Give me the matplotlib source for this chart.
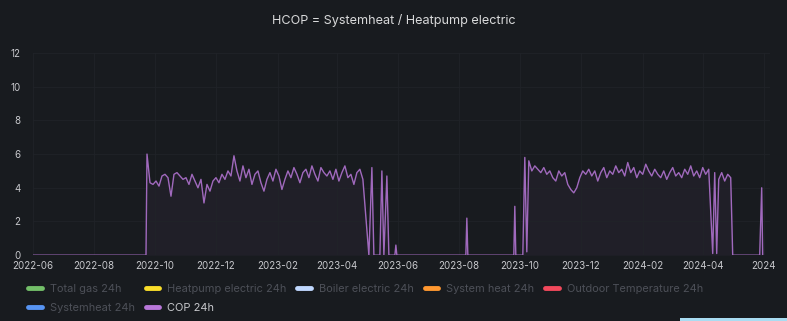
import pandas as pd
import matplotlib
matplotlib.use('Agg')
from matplotlib import pyplot as plt
from matplotlib.lines import Line2D
from matplotlib.patches import Rectangle

plt.rcParams['font.family'] = ['Inter', 'DejaVu Sans']

# COP 24h, heating season 2022/23 (one value every 3 days from 2022-09-23)
season1_start = '2022-09-23'
season1_cop = [6.0, 4.3, 4.2, 4.4, 4.1, 4.7, 4.8, 4.6, 3.5, 4.8,
               4.9, 4.7, 4.5, 4.6, 4.2, 4.8, 4.4, 4.0, 4.5, 3.1,
               4.2, 3.8, 4.4, 4.6, 4.3, 4.8, 4.5, 5.0, 4.7, 5.9,
               5.0, 4.4, 5.3, 4.6, 5.1, 4.2, 4.8, 5.0, 4.3, 3.8,
               4.5, 4.9, 4.4, 5.1, 4.7, 3.9, 4.5, 5.0, 4.6, 5.2,
               4.8, 4.3, 4.9, 5.1, 4.6, 5.3, 4.8, 4.4, 5.2, 4.9,
               4.7, 5.0, 4.5, 5.1, 4.4, 4.9, 5.3, 4.6, 4.8, 4.2,
               4.9, 5.1, 4.5]

# heating season 2023/24 (one value every 3 days from 2023-10-10)
season2_start = '2023-10-10'
season2_cop = [5.6, 5.0, 5.3, 5.1, 4.9, 5.2, 4.8, 5.0, 4.6, 4.4,
               5.0, 4.7, 4.9, 4.2, 3.9, 3.7, 4.0, 4.6, 5.0, 4.8,
               5.1, 4.7, 5.0, 4.4, 4.9, 5.2, 4.6, 5.0, 4.8, 5.3,
               4.9, 5.1, 4.7, 5.5, 4.9, 5.2, 4.6, 5.0, 4.8, 5.4,
               5.0, 4.7, 5.1, 4.8, 4.6, 5.0, 4.5, 4.9, 5.2, 4.7,
               4.9, 4.6, 5.1, 4.8, 5.3, 4.7, 5.0, 4.6, 5.2, 4.8, 5.1]

# single days outside the seasons
before_dates = ['2022-06-01', '2022-09-22']
before_cop = [0.0, 0.0]

summer_dates = ['2023-05-03', '2023-05-06', '2023-05-08', '2023-05-14', '2023-05-16',
                '2023-05-18', '2023-05-21', '2023-05-23', '2023-05-29', '2023-05-30',
                '2023-05-31', '2023-08-08', '2023-08-09', '2023-08-10', '2023-09-25',
                '2023-09-26', '2023-09-27', '2023-10-04', '2023-10-06', '2023-10-08']
summer_cop = [0.0, 5.2, 0.0, 0.0, 5.0,
              0.0, 4.7, 0.0, 0.0, 0.6,
              0.0, 0.0, 2.2, 0.0, 0.0,
              2.9, 0.0, 0.0, 5.8, 0.2]

tail_dates = ['2024-04-11', '2024-04-13', '2024-04-15', '2024-04-17', '2024-04-20',
              '2024-04-23', '2024-04-26', '2024-04-29', '2024-05-01', '2024-05-28',
              '2024-05-30', '2024-05-31']
tail_cop = [0.1, 4.9, 0.1, 4.5, 4.9,
            4.4, 4.8, 4.6, 0.0, 0.0,
            4.0, 0.0]

x_ticks = ['2022-06-01', '2022-08-01', '2022-10-01', '2022-12-01', '2023-02-01',
           '2023-04-01', '2023-06-01', '2023-08-01', '2023-10-01', '2023-12-01',
           '2024-02-01', '2024-04-01', '2024-06-01']
x_labels = ['2022-06', '2022-08', '2022-10', '2022-12', '2023-02', '2023-04',
            '2023-06', '2023-08', '2023-10', '2023-12', '2024-02', '2024-04', '2024']

legend_names = ['Total gas 24h', 'Heatpump electric 24h', 'Boiler electric 24h',
                'System heat 24h', 'Outdoor Temperature 24h', 'Systemheat 24h', 'COP 24h']
legend_colors = ['#73BF69', '#FADE2A', '#C0D8FF', '#FF9830', '#F2495C', '#5794F2', '#B877D9']

# build one series
s1 = pd.Series(season1_cop, index=pd.date_range(season1_start, periods=len(season1_cop), freq='3D'))
s2 = pd.Series(season2_cop, index=pd.date_range(season2_start, periods=len(season2_cop), freq='3D'))
s0 = pd.Series(before_cop, index=pd.to_datetime(before_dates))
sm = pd.Series(summer_cop, index=pd.to_datetime(summer_dates))
st = pd.Series(tail_cop, index=pd.to_datetime(tail_dates))
cop = pd.concat([s0, s1, sm, s2, st]).sort_index()

bg = '#181b1f'
txt = '#c7c8cc'
fig = plt.figure(figsize=(7.87, 3.21), dpi=100, facecolor=bg)
ax = fig.add_axes([0.042, 0.205, 0.936, 0.630], facecolor=bg)

ax.plot(cop.index, cop.values, color='#B877D9', lw=1.0, alpha=0.85)
ax.fill_between(cop.index, cop.values, 0, color='#B877D9', alpha=0.05, lw=0)

ax.set_ylim(0, 12)
ax.set_yticks(range(0, 13, 2))
ax.set_xlim(pd.Timestamp('2022-06-01'), pd.Timestamp('2024-06-07'))
ax.set_xticks(pd.to_datetime(x_ticks))
ax.set_xticklabels(x_labels)
ax.tick_params(axis='both', colors=txt, labelsize=7, length=0, pad=4)
ax.tick_params(axis='y', pad=9)
ax.grid(True, color='#202328', lw=0.6)
for sp in ax.spines.values():
    sp.set_visible(False)

fig.text(0.5, 0.937, 'HCOP = Systemheat / Heatpump electric', ha='center', va='center',
         color='#d8d9da', fontsize=9.1)

# legend: column-wise fill gives rows [5 items] / [2 items]
order = [0, 5, 1, 6, 2, 3, 4]
handles = [Line2D([], [], color=legend_colors[i], lw=3.5, solid_capstyle='round') for i in order]
labels = [legend_names[i] for i in order]
leg = fig.legend(handles, labels, ncol=5, loc='upper left', bbox_to_anchor=(0.036, 0.116),
                 frameon=False, fontsize=7.9, handlelength=1.25, handletextpad=0.7,
                 columnspacing=1.0, labelspacing=0.85, borderaxespad=0, borderpad=0)
for t, name in zip(leg.get_texts(), labels):
    t.set_color('#c7c8cc' if name == 'COP 24h' else '#4d5058')

fig.patches.append(Rectangle((680 / 787, 0), 107 / 787, 3 / 321, transform=fig.transFigure,
                             color='#a9dcf2', lw=0))

fig.savefig('out.png', dpi=100, facecolor=bg)
